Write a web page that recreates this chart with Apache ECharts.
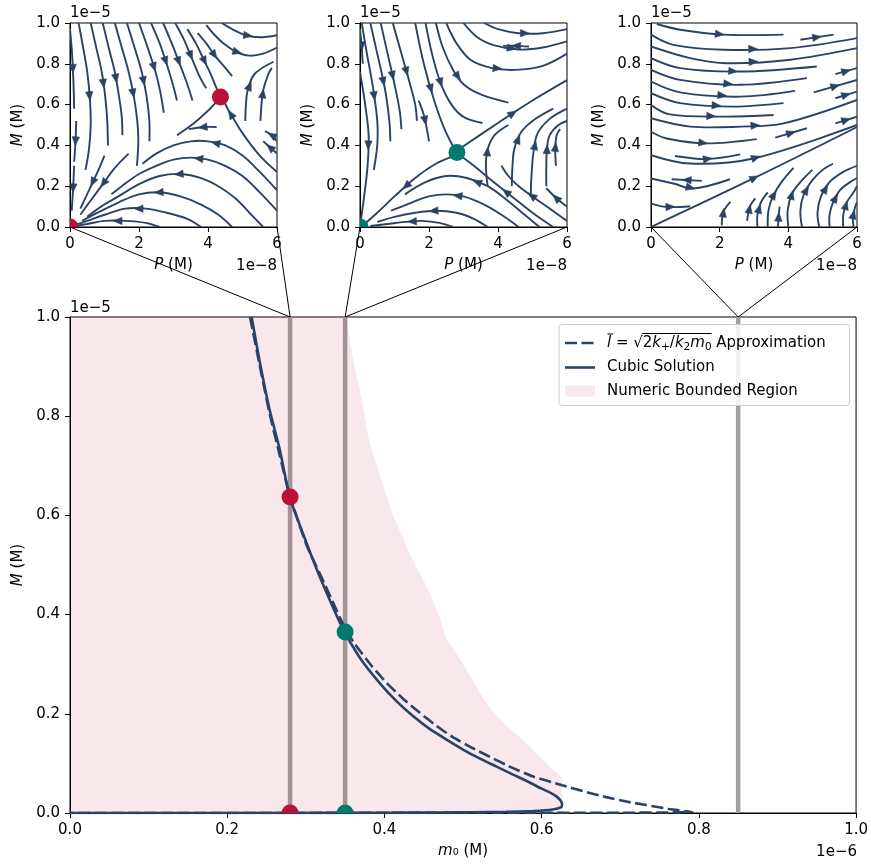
<!DOCTYPE html>
<html><head><meta charset="utf-8">
<script src="https://cdn.jsdelivr.net/npm/echarts@6/dist/echarts.min.js"></script>
<style>html,body{margin:0;padding:0;background:#fff}#c{width:871px;height:866px}</style>
</head><body><div id="c"></div>
<script>
// ---------------- DATA (m0 in 1e-6 M, M in 1e-5 M, P in 1e-8 M) ----------------
const sliceM0 = [0.28, 0.35, 0.85];
const cubicM0 = [0.231,0.241,0.254,0.267,0.2795,0.301,0.321,0.349,0.37,0.394,0.415,0.436,0.457,0.479,0.50,0.521,0.542,0.563,0.583,0.600,0.612,0.620,0.624,0.626,0.625,0.614,0.59,0.555,0.51,0.47,0.40,0.35,0.0];
const cubicM  = [1.0,0.913,0.8125,0.732,0.637,0.544,0.464,0.365,0.31,0.262,0.226,0.196,0.170,0.148,0.128,0.110,0.094,0.078,0.063,0.049,0.040,0.032,0.025,0.018,0.012,0.007,0.004,0.0025,0.0015,0.001,0.0005,0.0003,0.0];
const approxM0 = [0.229,0.241,0.254,0.267,0.2795,0.301,0.323,0.35,0.365,0.384,0.403,0.424,0.445,0.466,0.487,0.512,0.537,0.560,0.59,0.626,0.655,0.682,0.708,0.733,0.762,0.792,0.70,0.0];
const approxM  = [1.0,0.905,0.805,0.72,0.64,0.54,0.465,0.372,0.335,0.296,0.262,0.23,0.202,0.176,0.153,0.131,0.111,0.093,0.073,0.056,0.043,0.032,0.023,0.016,0.008,0.002,0.0005,0.0];
const regionM0 = [0.0,0.352,0.356,0.362,0.368,0.375,0.381,0.391,0.400,0.410,0.423,0.436,0.454,0.470,0.479,0.487,0.511,0.525,0.544,0.559,0.576,0.593,0.610,0.626,0.626];
const regionM  = [1.0,1.0,0.948,0.899,0.859,0.798,0.746,0.698,0.651,0.605,0.556,0.510,0.456,0.395,0.349,0.333,0.272,0.232,0.194,0.171,0.147,0.121,0.093,0.071,0.0];
const redM0 = [0.28, 0.28],  redM = [0.637, 0.0];
const tealM0 = [0.35, 0.35], tealM = [0.365, 0.0];
const inset1P = [4.36, 0.0], inset1M = [0.637, 0.0];
const inset2P = [2.81, 0.0], inset2M = [0.365, 0.0];
const mainXTicks = [0, 1.0, 0.2], mainYTicks = [0, 1.0, 0.2];
const insetPTicks = [0, 6, 2], insetMTicks = [0, 1.0, 0.2];

// streamlines: flat [P,M,P,M,...] in flow order
const streams1 = [
 [0.0,0.97, 0.06,0.85, 0.1,0.71, 0.12,0.58],
 [0.18,0.52, 0.16,0.42, 0.12,0.32],
 [0.12,0.3, 0.09,0.19, 0.05,0.08],
 [0.25,1.0, 0.38,0.88, 0.5,0.76, 0.58,0.62, 0.6,0.5, 0.55,0.38, 0.45,0.28],
 [0.6,1.0, 0.76,0.88, 0.92,0.76, 1.02,0.64, 1.08,0.52, 1.1,0.4],
 [0.95,1.0, 1.12,0.88, 1.3,0.76, 1.42,0.64, 1.5,0.54, 1.52,0.45],
 [1.3,1.0, 1.5,0.88, 1.7,0.76, 1.85,0.64, 1.95,0.52, 1.98,0.42, 1.94,0.3],
 [1.65,1.0, 1.87,0.88, 2.08,0.76, 2.22,0.64, 2.3,0.52, 2.3,0.42],
 [2.0,1.0, 2.25,0.88, 2.48,0.76, 2.62,0.66, 2.72,0.56],
 [2.35,1.0, 2.6,0.9, 2.8,0.8, 2.98,0.7, 3.1,0.62],
 [2.7,1.0, 2.95,0.9, 3.2,0.79, 3.4,0.7, 3.55,0.62],
 [3.05,1.0, 3.3,0.92, 3.5,0.84, 3.75,0.74, 3.95,0.68],
 [3.4,0.97, 3.65,0.9, 3.85,0.83, 4.05,0.76, 4.25,0.68, 4.33,0.65],
 [3.7,0.95, 3.95,0.9, 4.2,0.84, 4.5,0.78, 4.7,0.74],
 [3.95,0.99, 4.2,0.94, 4.45,0.9, 4.8,0.86, 5.2,0.84, 5.6,0.85, 6.0,0.88],
 [4.4,1.0, 4.7,0.97, 5.1,0.94, 5.5,0.93, 6.0,0.94],
 [5.08,0.52, 5.1,0.6, 5.15,0.67, 5.35,0.75, 5.9,0.81],
 [5.52,0.52, 5.55,0.6, 5.6,0.67, 5.75,0.75, 5.85,0.78],
 [6.0,0.27, 5.5,0.35, 5.0,0.46, 4.6,0.57, 4.38,0.625, 4.0,0.57, 3.6,0.51, 3.1,0.45],
 [4.25,0.49, 3.9,0.49, 3.44,0.48],
 [6.0,0.42, 5.85,0.45, 5.65,0.47],
 [6.0,0.36, 5.8,0.39, 5.6,0.42],
 [6.0,0.18, 5.5,0.27, 5.0,0.35, 4.5,0.4, 4.0,0.42, 3.5,0.42, 3.0,0.4, 2.5,0.36, 2.1,0.31],
 [6.0,0.08, 5.5,0.17, 5.0,0.25, 4.5,0.3, 4.0,0.33, 3.5,0.34, 3.0,0.33, 2.5,0.3, 2.0,0.26, 1.5,0.2, 1.2,0.16],
 [5.6,0.0, 5.2,0.07, 4.8,0.14, 4.3,0.2, 3.8,0.24, 3.2,0.26, 2.6,0.25, 2.0,0.21, 1.4,0.15, 0.9,0.1, 0.5,0.05],
 [4.7,0.0, 4.3,0.06, 3.8,0.11, 3.2,0.15, 2.6,0.17, 2.0,0.16, 1.4,0.12, 0.8,0.07, 0.35,0.03],
 [3.8,0.0, 3.4,0.04, 2.8,0.07, 2.2,0.09, 1.6,0.09, 1.0,0.06, 0.5,0.03, 0.15,0.01],
 [2.6,0.0, 2.2,0.02, 1.6,0.03, 1.0,0.03, 0.5,0.015, 0.15,0.005],
 [1.7,0.36, 1.3,0.29, 0.95,0.21, 0.6,0.13, 0.3,0.06],
 [1.0,0.35, 0.8,0.27, 0.55,0.18, 0.3,0.09]
];
const streams2 = [
 [0.0,0.76, 0.15,0.6, 0.25,0.45, 0.22,0.3, 0.12,0.15, 0.03,0.04],
 [0.0,0.97, 0.05,0.88, 0.08,0.8],
 [0.05,1.0, 0.2,0.85, 0.38,0.68, 0.5,0.52, 0.5,0.4, 0.4,0.28],
 [0.3,1.0, 0.5,0.85, 0.72,0.68, 0.85,0.52, 0.88,0.42],
 [0.6,1.0, 0.8,0.85, 1.0,0.7, 1.15,0.57, 1.2,0.48],
 [0.95,1.0, 1.2,0.85, 1.45,0.7, 1.6,0.6, 1.65,0.52],
 [1.7,0.62, 1.85,0.55, 1.95,0.47, 2.0,0.42],
 [1.6,1.0, 1.85,0.8, 2.15,0.62, 2.45,0.48, 2.78,0.37],
 [1.9,1.0, 2.1,0.84, 2.35,0.7, 2.65,0.6, 3.0,0.54, 3.55,0.51],
 [2.2,1.0, 2.4,0.88, 2.7,0.77, 3.0,0.7, 3.5,0.65, 4.3,0.61],
 [2.5,1.0, 2.8,0.9, 3.2,0.82, 3.8,0.78, 4.5,0.77, 5.3,0.79, 6.0,0.85],
 [3.0,1.0, 3.4,0.93, 3.9,0.89, 4.6,0.87, 5.3,0.88, 6.0,0.91],
 [3.6,1.0, 4.0,0.97, 4.6,0.95, 5.3,0.95, 6.0,0.97],
 [4.9,0.885, 4.5,0.888, 4.15,0.888],
 [2.9,0.385, 4.0,0.51, 5.0,0.62, 6.0,0.72],
 [3.7,0.2, 3.65,0.3, 3.7,0.38, 3.9,0.45, 4.3,0.5],
 [4.4,0.2, 4.42,0.3, 4.47,0.38, 4.65,0.46, 5.0,0.52, 5.6,0.58],
 [4.95,0.15, 4.97,0.25, 5.03,0.37, 5.15,0.46, 5.5,0.53, 6.0,0.58],
 [5.4,0.2, 5.4,0.3, 5.42,0.385, 5.5,0.45, 5.75,0.5, 6.0,0.52],
 [5.68,0.3, 5.66,0.385, 5.7,0.45, 5.8,0.48],
 [5.6,0.0, 5.0,0.07, 4.4,0.15, 3.8,0.23, 3.3,0.3, 2.9,0.35],
 [6.0,0.03, 5.5,0.09, 5.0,0.15, 4.6,0.2, 4.3,0.25, 4.1,0.3],
 [6.0,0.1, 5.7,0.14, 5.4,0.19],
 [5.2,0.0, 4.7,0.07, 4.2,0.14, 3.7,0.2, 3.1,0.24, 2.5,0.25, 1.9,0.22, 1.3,0.16],
 [4.6,0.0, 4.1,0.06, 3.6,0.11, 3.0,0.15, 2.5,0.16, 2.0,0.15, 1.5,0.12, 0.9,0.08],
 [3.7,0.0, 3.3,0.04, 2.8,0.07, 2.2,0.08, 1.6,0.07, 1.0,0.05, 0.5,0.025],
 [2.7,0.0, 2.3,0.02, 1.8,0.03, 1.3,0.025, 0.8,0.015, 0.3,0.005],
 [2.75,0.35, 2.2,0.31, 1.6,0.24, 1.0,0.15, 0.5,0.07, 0.1,0.01]
];
const streams3 = [
 [0.17,0.995, 0.85,0.967, 2.11,0.943, 3.86,0.943],
 [4.35,0.918, 5.32,0.943],
 [0.0,0.943, 0.65,0.893, 2.11,0.869, 4.06,0.877, 6.0,0.926],
 [0.0,0.885, 1.14,0.828, 2.21,0.803, 4.06,0.82, 6.0,0.877],
 [0.0,0.828, 0.85,0.779, 2.6,0.762, 4.83,0.787],
 [5.37,0.749, 6.0,0.779],
 [0.0,0.77, 0.85,0.721, 2.6,0.697, 4.54,0.73],
 [0.0,0.713, 0.85,0.66, 2.6,0.639, 4.2,0.667],
 [4.74,0.66, 6.0,0.721],
 [5.37,0.631, 6.0,0.664],
 [0.0,0.656, 0.85,0.607, 2.4,0.59, 3.86,0.607],
 [0.0,0.598, 0.55,0.552, 2.11,0.541, 3.57,0.549],
 [0.0,0.533, 1.14,0.492, 2.6,0.492, 3.86,0.508, 6.0,0.623],
 [5.37,0.508, 6.0,0.541],
 [0.0,0.467, 0.46,0.434, 1.62,0.41, 3.08,0.431],
 [3.62,0.438, 4.54,0.484],
 [0.0,0.352, 1.14,0.311, 2.98,0.336, 6.0,0.5],
 [0.7,0.348, 1.62,0.333, 2.6,0.356],
 [0.0,0.238, 0.65,0.213, 1.24,0.189, 2.3,0.234],
 [1.48,0.226, 0.6,0.234],
 [0.0,0.0, 2.98,0.238, 6.0,0.49],
 [0.0,0.115, 0.46,0.098, 1.14,0.102],
 [2.06,0.008, 2.11,0.074, 2.31,0.123],
 [2.8,0.03, 2.88,0.1, 3.04,0.14],
 [3.1,0.0, 3.1,0.06, 3.2,0.12, 3.4,0.17],
 [3.4,0.0, 3.42,0.08, 3.55,0.15, 3.8,0.22, 4.15,0.29],
 [3.7,0.0, 3.72,0.06, 3.75,0.1],
 [4.0,0.0, 3.98,0.08, 4.1,0.16, 4.35,0.22, 4.7,0.28],
 [4.4,0.0, 4.35,0.08, 4.45,0.16, 4.7,0.23, 5.0,0.28, 5.3,0.31],
 [4.9,0.0, 4.85,0.07, 4.95,0.15, 5.2,0.22, 5.6,0.27, 6.0,0.3],
 [5.2,0.0, 5.2,0.06, 5.3,0.12, 5.5,0.18, 5.8,0.22, 6.0,0.24],
 [5.6,0.0, 5.6,0.06, 5.7,0.12, 5.9,0.17, 6.0,0.2],
 [5.9,0.0, 5.88,0.05, 5.95,0.1, 6.0,0.12]
];

// ---------------- STYLE / LAYOUT ----------------
const FF = 'DejaVu Sans';
const C = '#2a4365', RED = '#bb1037', TEAL = '#007a6c', GRAY = '#a0a0a0';
const FS = 15;
const grids = [
  {left:70, top:317, width:787, height:496},
  {left:70, top:23, width:207, height:204},
  {left:360, top:23, width:207, height:204},
  {left:651, top:23, width:206, height:204}
];

function axis(gi, t, fmt, name, gap) {
  return {
    type:'value', gridIndex:gi, min:t[0], max:t[1], interval:t[2],
    axisLine:{show:true, onZero:false, lineStyle:{color:'#000', width:1}},
    axisTick:{show:true, inside:false, length:5, lineStyle:{color:'#000', width:1}},
    axisLabel:{margin:10, fontSize:FS, fontFamily:FF, color:'#000', formatter:fmt, hideOverlap:false},
    splitLine:{show:false},
    name:name, nameLocation:'middle', nameGap:gap,
    nameTextStyle:{fontSize:FS, fontFamily:FF, color:'#000',
      rich:{i:{fontStyle:'italic', fontSize:FS, fontFamily:FF, color:'#000'}}}
  };
}
const f1 = v => v.toFixed(1), f0 = v => String(Math.round(v));

function streamRender(lines) {
  return function (params, api) {
    const flat = lines[params.dataIndex];
    const pts = [];
    for (let i = 0; i < flat.length; i += 2) pts.push(api.coord([flat[i], flat[i+1]]));
    const seg = []; let total = 0;
    for (let i = 1; i < pts.length; i++) {
      const d = Math.hypot(pts[i][0]-pts[i-1][0], pts[i][1]-pts[i-1][1]);
      seg.push(d); total += d;
    }
    let half = total / 2, k = 0;
    while (k < seg.length - 1 && half > seg[k]) { half -= seg[k]; k++; }
    const a = pts[k], b = pts[k+1], L0 = seg[k] || 1;
    const t = half / L0;
    const mx = a[0] + (b[0]-a[0])*t, my = a[1] + (b[1]-a[1])*t;
    const ux = (b[0]-a[0])/L0, uy = (b[1]-a[1])/L0, nx = -uy, ny = ux;
    const L = 9, W = 7.5;
    const tip = [mx + ux*L/2, my + uy*L/2], bx = mx - ux*L/2, by = my - uy*L/2;
    return {type:'group', children:[
      {type:'polyline', shape:{points:pts, smooth:0.35}, style:{stroke:C, lineWidth:1.9, fill:null}},
      {type:'polygon', shape:{points:[tip, [bx+nx*W/2, by+ny*W/2], [bx-nx*W/2, by-ny*W/2]]}, style:{fill:C, stroke:C, lineWidth:0.5}}
    ]};
  };
}
function streamSeries(idx, lines) {
  return {type:'custom', xAxisIndex:idx, yAxisIndex:idx, clip:true, z:3, silent:true,
    data: lines.map(l => [l[0], l[1]]), renderItem: streamRender(lines)};
}
function dotSeries(idx, xs, ys, color) {
  return {type:'custom', xAxisIndex:idx, yAxisIndex:idx, clip:true, z:6, silent:true,
    data: xs.map((x,i) => [x, ys[i]]),
    renderItem: (p, api) => {
      const c = api.coord([api.value(0), api.value(1)]);
      return {type:'circle', shape:{cx:c[0], cy:c[1], r:8.5}, style:{fill:color}};
    }};
}

const series = [];
sliceM0.forEach(s => series.push({type:'line', xAxisIndex:0, yAxisIndex:0, z:1, silent:true, symbol:'none',
  data:[[s,0],[s,1]], lineStyle:{color:GRAY, width:4.5}}));
series.push({type:'line', xAxisIndex:0, yAxisIndex:0, z:2, silent:true, symbol:'none',
  data: regionM0.map((x,i)=>[x, regionM[i]]), lineStyle:{width:0, opacity:0},
  areaStyle:{color:'rgba(187,16,55,0.1)', opacity:1}});
series.push({type:'line', xAxisIndex:0, yAxisIndex:0, z:4, silent:true, symbol:'none', smooth:0.15,
  data: cubicM0.map((x,i)=>[x, cubicM[i]]), lineStyle:{color:C, width:2.6}});
series.push({type:'line', xAxisIndex:0, yAxisIndex:0, z:4, silent:true, symbol:'none', smooth:0.15,
  data: approxM0.map((x,i)=>[x, approxM[i]]), lineStyle:{color:C, width:2.6, type:[12,4.5]}});
series.push(dotSeries(0, redM0, redM, RED));
series.push(dotSeries(0, tealM0, tealM, TEAL));
series.push(streamSeries(1, streams1));
series.push(streamSeries(2, streams2));
series.push(streamSeries(3, streams3));
series.push(dotSeries(1, inset1P, inset1M, RED));
series.push(dotSeries(2, inset2P, inset2M, TEAL));

const option = {
  animation:false,
  backgroundColor:'#ffffff',
  textStyle:{fontFamily:FF},
  grid: grids.map(g => Object.assign({show:true, borderColor:'#000', borderWidth:1, backgroundColor:'transparent', containLabel:false}, g)),
  xAxis:[
    axis(0, mainXTicks, f1, '{i|m}\u2080 (M)', 31),
    axis(1, insetPTicks, f0, '{i|P} (M)', 31),
    axis(2, insetPTicks, f0, '{i|P} (M)', 31),
    axis(3, insetPTicks, f0, '{i|P} (M)', 31)
  ],
  yAxis:[
    axis(0, mainYTicks, f1, '{i|M} (M)', 44),
    axis(1, insetMTicks, f1, '{i|M} (M)', 44),
    axis(2, insetMTicks, f1, '{i|M} (M)', 44),
    axis(3, insetMTicks, f1, '{i|M} (M)', 44)
  ],
  series: series
};

const chart = echarts.init(document.getElementById('c'), null, {renderer:'canvas'});
chart.setOption(option);

// ---------------- annotations: offsets, connectors, legend ----------------
const G = [];
const txt = (x, y, s, align, font) => G.push({type:'text', x:x, y:y, z:25, silent:true,
  style:{text:s, font:font || (FS + 'px "' + FF + '"'), fill:'#000', align:align || 'left', verticalAlign:'middle'}});
const m = grids[0];
txt(m.left, m.top - 9, '1e\u22125');
txt(m.left + m.width, 852, '1e\u22126', 'right');
for (let k = 1; k <= 3; k++) {
  const g = grids[k];
  txt(g.left, 13, '1e\u22125');
  txt(g.left + g.width, 266, '1e\u22128', 'right');
  const top = chart.convertToPixel({gridIndex:0}, [sliceM0[k-1], mainYTicks[1]]);
  const bl = chart.convertToPixel({gridIndex:k}, [insetPTicks[0], insetMTicks[0]]);
  const br = chart.convertToPixel({gridIndex:k}, [insetPTicks[1], insetMTicks[0]]);
  [bl, br].forEach(p => G.push({type:'line', z:20, silent:true,
    shape:{x1:p[0], y1:p[1], x2:top[0], y2:top[1]}, style:{stroke:'#000', lineWidth:1}}));
}

// legend
const LX = 559, LY = 324.5, LW = 290.5, LH = 81;
G.push({type:'rect', z:21, silent:true, shape:{x:LX, y:LY, width:LW, height:LH, r:3},
  style:{fill:'rgba(255,255,255,0.85)', stroke:'#cccccc', lineWidth:1}});
const rows = [343, 367.5, 391];
const hx1 = 565, hx2 = 595, tx = 607;
G.push({type:'line', z:22, silent:true, shape:{x1:hx1, y1:rows[0], x2:hx2, y2:rows[0]},
  style:{stroke:C, lineWidth:2.6, lineDash:[12,4.5]}});
G.push({type:'line', z:22, silent:true, shape:{x1:hx1, y1:rows[1], x2:hx2, y2:rows[1]},
  style:{stroke:C, lineWidth:2.6}});
G.push({type:'rect', z:22, silent:true, shape:{x:hx1, y:rows[2]-5.5, width:hx2-hx1, height:11},
  style:{fill:'rgba(187,16,55,0.1)'}});
const ctx = document.createElement('canvas').getContext('2d');
const fN = s => s + 'px "' + FF + '"', fI = s => 'italic ' + s + 'px "' + FF + '"';
const tokens = [
  {t:'l', f:fI(FS), bar:true},
  {t:' = ', f:fN(FS)},
  {t:'\u221A', f:fN(FS), radStart:true},
  {t:'2', f:fN(FS), rad:true},
  {t:'k', f:fI(FS), rad:true},
  {t:'+', f:fN(10.5), dy:4, rad:true},
  {t:'/', f:fN(FS), rad:true},
  {t:'k', f:fI(FS), rad:true},
  {t:'2', f:fN(10.5), dy:4, rad:true},
  {t:'m', f:fI(FS), rad:true},
  {t:'0', f:fN(10.5), dy:4, rad:true},
  {t:' Approximation', f:fN(FS)}
];
let cx = tx, radX1 = null, radX2 = null;
tokens.forEach(tk => {
  ctx.font = tk.f;
  const w = ctx.measureText(tk.t).width;
  G.push({type:'text', x:cx, y:rows[0] + (tk.dy || 0), z:23, silent:true,
    style:{text:tk.t, font:tk.f, fill:'#000', align:'left', verticalAlign:'middle'}});
  if (tk.bar) G.push({type:'line', z:23, silent:true, shape:{x1:cx+0.5, y1:rows[0]-9, x2:cx+w+2, y2:rows[0]-9},
    style:{stroke:'#000', lineWidth:1}});
  if (tk.radStart) radX1 = cx + w - 1;
  if (tk.rad) radX2 = cx + w;
  cx += w;
});
G.push({type:'line', z:23, silent:true, shape:{x1:radX1, y1:rows[0]-9.5, x2:radX2, y2:rows[0]-9.5},
  style:{stroke:'#000', lineWidth:1}});
txt(tx, rows[1], 'Cubic Solution');
txt(tx, rows[2], 'Numeric Bounded Region');

chart.setOption({graphic: G});
</script></body></html>
